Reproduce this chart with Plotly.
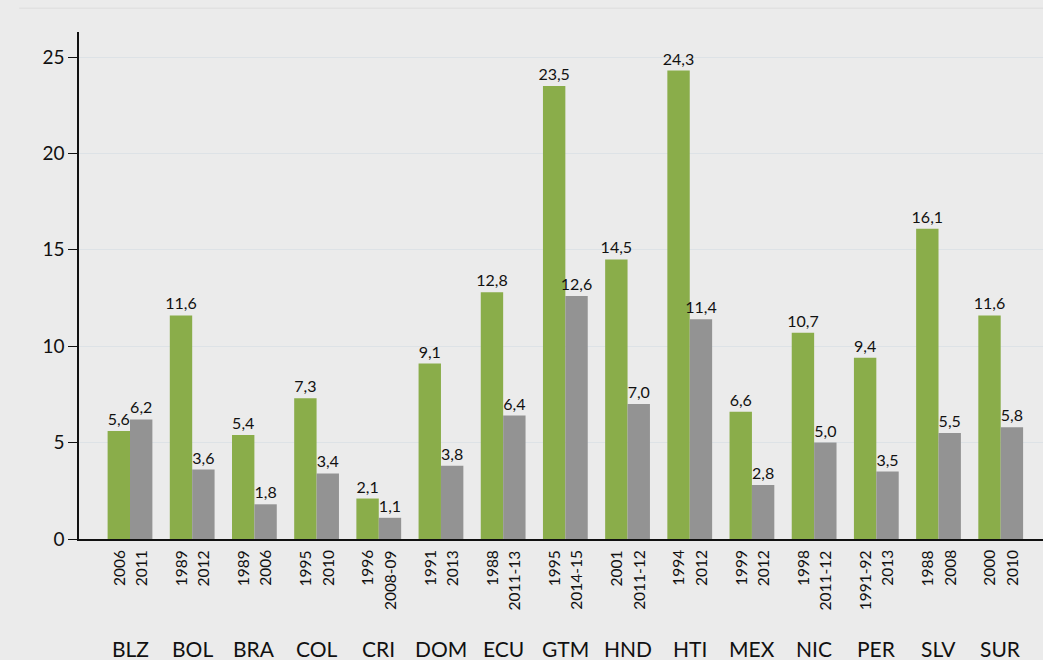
import plotly.graph_objects as go

countries = ["BLZ", "BOL", "BRA", "COL", "CRI", "DOM", "ECU", "GTM", "HND", "HTI", "MEX", "NIC", "PER", "SLV", "SUR"]
years_first = ["2006", "1989", "1989", "1995", "1996", "1991", "1988", "1995", "2001", "1994", "1999", "1998", "1991-92", "1988", "2000"]
years_last = ["2011", "2012", "2006", "2010", "2008-09", "2013", "2011-13", "2014-15", "2011-12", "2012", "2012", "2011-12", "2013", "2008", "2010"]
values_first = [5.6, 11.6, 5.4, 7.3, 2.1, 9.1, 12.8, 23.5, 14.5, 24.3, 6.6, 10.7, 9.4, 16.1, 11.6]
values_last = [6.2, 3.6, 1.8, 3.4, 1.1, 3.8, 6.4, 12.6, 7.0, 11.4, 2.8, 5.0, 3.5, 5.5, 5.8]

GREEN = "#8aad4a"
GREY = "#939393"
BG = "#ebebeb"
FONT = "Lato, Calibri, 'Open Sans', sans-serif"

idx = list(range(len(countries)))
bw = 0.36
off = bw / 2

fig = go.Figure()
fig.add_trace(go.Bar(
    x=[i - off for i in idx], y=values_first, width=bw,
    marker=dict(color=GREEN, line=dict(width=0)),
    texttemplate="%{y:.1f}", textposition="outside",
    textfont=dict(size=16, color="#111111", family=FONT),
    constraintext="none", cliponaxis=False, showlegend=False,
))
fig.add_trace(go.Bar(
    x=[i + off for i in idx], y=values_last, width=bw,
    marker=dict(color=GREY, line=dict(width=0)),
    texttemplate="%{y:.1f}", textposition="outside",
    textfont=dict(size=16, color="#111111", family=FONT),
    constraintext="none", cliponaxis=False, showlegend=False,
))

annotations = []
for i in idx:
    for label, dx in ((years_first[i], -off), (years_last[i], off)):
        annotations.append(dict(
            x=i + dx, y=-0.018, xref="x", yref="paper", text=label,
            textangle=-90, showarrow=False, xanchor="center", yanchor="top",
            font=dict(size=15.5, color="#111111", family=FONT),
        ))
    annotations.append(dict(
        x=i, y=-0.215, xref="x", yref="paper", text=countries[i],
        showarrow=False, xanchor="center", yanchor="middle",
        font=dict(size=21, color="#111111", family=FONT),
    ))

fig.update_layout(
    width=1043, height=660,
    paper_bgcolor=BG, plot_bgcolor=BG,
    margin=dict(l=79, r=0, t=32, b=121),
    separators=",.",
    barmode="overlay",
    font=dict(family=FONT, color="#111111"),
    annotations=annotations,
    shapes=[dict(type="line", xref="paper", yref="paper", x0=-0.062, x1=1.0, y0=1.047, y1=1.047,
                 line=dict(color="#dcdcdc", width=1))],
    xaxis=dict(range=[-0.82, 14.68], showticklabels=False, showgrid=False,
               zeroline=False, showline=True, linecolor="#111111", linewidth=1.5,
               ticks=""),
    yaxis=dict(range=[0, 26.3], tickvals=[0, 5, 10, 15, 20, 25], showgrid=True,
               gridcolor="#dde2e6", gridwidth=1, zeroline=False, showline=True,
               linecolor="#111111", linewidth=1.5, ticks="outside", ticklen=9,
               tickcolor="#111111", tickfont=dict(size=19, family=FONT, color="#111111")),
)

fig.write_html(
    "out.html",
    config={"displayModeBar": False},
    post_script="document.body.style.margin='0';document.body.style.padding='0';"
                "document.body.style.overflow='hidden';document.body.style.background='#ebebeb';",
)
